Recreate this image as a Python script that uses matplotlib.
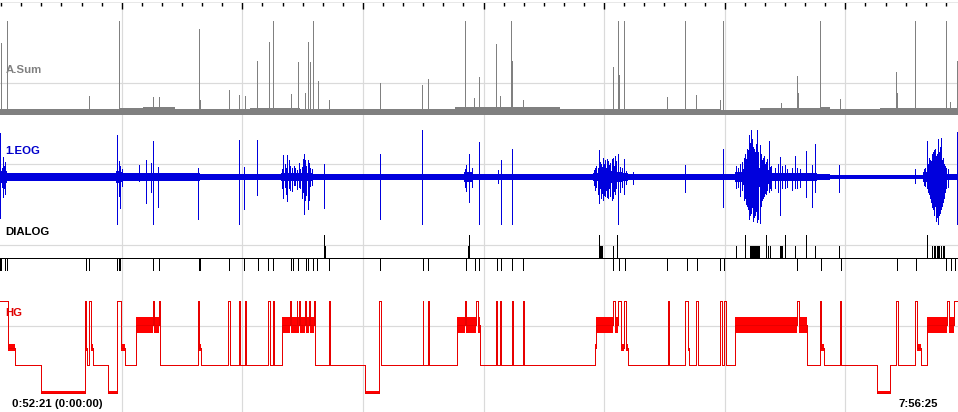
import numpy as np
import matplotlib
matplotlib.use("Agg")
import matplotlib.pyplot as plt

# ---------------- data (time in minutes from recording start) ----------------
START_CLOCK = "0:52:21"
START_ELAPSED = "0:00:00"
END_CLOCK = "7:56:25"
T_TOTAL = 424.07          # 0:52:21 -> 7:56:25
GRID_STEP = 53.39
GRID_OFFSET = 0.49

# A.Sum : background level segments and artefact spikes
asum_base_t = [0.0, 53.12, 63.30, 77.47, 110.67, 132.80, 159.36, 194.77, 201.41,
               230.18, 247.89, 283.30, 318.72, 336.42, 362.98, 367.41, 389.54]
asum_base_lvl = [6, 7, 8.5, 6.5, 7.5, 6.5, 6, 6.5, 8, 8.5, 6, 6.5, 5, 7, 8, 6.5, 7.5]
asum_spike_t = [0.44, 3.10, 39.40, 52.54, 52.81, 67.73, 70.38, 87.96, 88.53, 101.24,
                105.80, 108.45, 113.76, 118.94, 120.71, 120.98, 128.68, 132.05, 135.01, 136.47,
                137.22, 138.69, 140.63, 145.77, 168.34, 186.94, 189.59, 205.97, 209.95, 212.17,
                219.69, 221.46, 226.33, 226.64, 231.64, 271.48, 273.70, 274.14, 276.35, 295.39,
                303.36, 308.23, 318.85, 320.18, 345.85, 352.93, 353.15, 363.12, 371.97, 396.76,
                397.07, 405.17, 418.89, 420.66, 423.76]
asum_spike_h = [72, 94, 19, 55, 94, 18, 18, 86, 15, 25,
                20, 19, 54, 73, 94, 27, 21, 53, 22, 73,
                53, 94, 34, 15, 32, 30, 36, 94, 17, 38,
                71, 19, 94, 54, 15, 48, 94, 40, 94, 18,
                94, 20, 15, 94, 12, 39, 22, 94, 16, 43,
                22, 94, 94, 13, 54]

# 1.EOG (uV): background envelope segments and individual deflections
eog_band_t = [0.0, 3.1, 51.5, 52.8, 54.5, 88.5, 124.5, 130.0, 134.0, 138.5,
              163.7, 205.5, 209.5, 262.5, 264.5, 272.0, 275.5, 278.0, 325.5, 329.0,
              331.0, 337.5, 341.8, 361.5, 367.5, 408.5, 410.5, 413.0, 417.5, 419.0]
eog_band_amp = [30, 20, 30, 25, 20, 18, 22, 20, 22, 17,
                14, 24, 17, 22, 32, 28, 20, 15, 28, 40,
                50, 35, 22, 16, 9, 28, 40, 45, 30, 14]
eog_t = [0.22, 0.89, 1.33, 1.77, 2.43, 51.93, 52.46, 53.12, 54.00, 61.66,
         64.63, 66.84, 67.86, 70.07, 87.51, 105.93, 108.01, 113.90, 125.41, 127.18,
         128.37, 130.58, 132.80, 134.57, 135.23, 136.21, 136.92, 138.11, 143.56, 168.21,
         186.94, 205.84, 206.28, 207.74, 208.94, 212.17, 220.58, 221.64, 226.51, 263.38,
         265.29, 266.04, 267.06, 267.81, 269.14, 270.78, 271.22, 272.24, 273.70, 276.35,
         280.20, 303.22, 320.04, 325.80, 327.56, 329.34, 330.67, 331.55, 332.00, 332.57,
         333.32, 334.21, 335.23, 336.29, 336.86, 337.75, 339.07, 340.27, 341.29, 343.06,
         344.39, 345.15, 346.16, 347.35, 348.37, 350.59, 352.05, 352.80, 354.13, 356.92,
         359.58, 360.91, 371.26, 404.90, 409.02, 410.48, 411.67, 412.56, 413.44, 414.33,
         415.22, 415.88, 416.68, 417.43, 418.31, 419.64, 423.76]
eog_hi = [230, 50, 105, 60, 80, 219, 85, 60, 40, 65,
          91, 75, 192, 53, 47, 197, 53, 193, 118, 114,
          60, 50, 40, 123, 90, 88, 75, 40, 70, 123,
          245, 40, 65, 123, 50, 183, 35, 92, 145, 50,
          140, 70, 100, 90, 85, 97, 100, 110, 123, 97,
          25, 61, 149, 60, 70, 100, 150, 219, 180, 245,
          160, 130, 245, 170, 120, 100, 80, 192, 60, 50,
          70, 105, 60, 65, 40, 45, 110, 50, 40, 135,
          65, 175, 65, 40, 40, 187, 90, 120, 140, 110,
          198, 130, 205, 100, 60, 40, 236]
eog_lo = [-217, -50, -105, -60, -90, -250, -100, -165, -45, -20,
          -139, -79, -250, -158, -219, -250, -171, -96, -110, -128,
          -70, -40, -60, -197, -120, -166, -120, -40, -163, -223,
          -250, -50, -75, -134, -55, -250, -30, -250, -250, -70,
          -139, -110, -120, -100, -110, -123, -110, -90, -250, -92,
          -35, -79, -158, -60, -100, -120, -150, -220, -200, -190,
          -230, -200, -236, -241, -150, -110, -90, -80, -70, -60,
          -80, -200, -60, -60, -50, -70, -60, -60, -50, -105,
          -158, -80, -79, -30, -40, -60, -110, -160, -200, -230,
          -250, -200, -170, -130, -80, -50, -250]
# additional deflections inside the eye-movement bursts
eog_b_t = [124.83, 126.16, 126.60, 127.93, 129.26, 130.14, 131.47, 132.36, 133.68, 134.13,
           135.45, 137.22,
           262.94, 263.83, 264.71, 265.60, 266.48, 267.37, 268.25, 268.69, 269.58, 270.02,
           271.79, 272.68, 274.45, 275.33, 277.10,
           326.68, 328.45, 329.78, 330.22, 331.11, 332.88, 333.77, 334.65, 335.54, 336.42,
           337.31, 338.19, 338.63, 339.52, 340.85,
           409.46, 410.79, 411.23, 412.12, 413.00, 413.89, 414.77, 416.10, 416.98, 417.87,
           418.76]
eog_b_hi = [40, 70, 50, 90, 45, 60, 35, 75, 55, 95,
            60, 50,
            35, 60, 45, 80, 55, 70, 50, 95, 65, 75,
            60, 85, 55, 45, 30,
            45, 80, 120, 95, 140, 200, 150, 175, 130, 150,
            90, 110, 70, 95, 55,
            50, 70, 100, 85, 130, 150, 120, 160, 90, 70,
            45]
eog_b_lo = [-60, -50, -90, -60, -75, -40, -65, -55, -110, -80,
            -95, -45,
            -40, -55, -90, -60, -85, -95, -70, -105, -60, -100,
            -75, -60, -80, -50, -35,
            -55, -70, -110, -140, -170, -160, -210, -180, -220, -190,
            -120, -100, -85, -70, -60,
            -45, -80, -90, -130, -170, -150, -210, -190, -150, -110,
            -60]

# DIALOG events
dlg_down_t = [0.0, 0.44, 2.21, 3.23, 37.94, 39.53, 51.93, 52.46, 53.12, 67.86,
              70.52, 88.09, 88.75, 101.24, 108.01, 114.07, 118.77, 120.71, 128.68, 129.57,
              132.05, 135.32, 136.47, 138.69, 140.46, 145.77, 168.21, 187.11, 189.59, 206.28,
              210.26, 212.17, 219.87, 221.64, 226.51, 231.64, 271.48, 274.14, 276.66, 295.39,
              303.97, 308.40, 318.58, 320.49, 352.80, 363.29, 372.14, 397.07, 405.61, 418.89,
              420.84, 422.87]
dlg_tall_t = [143.56, 207.74, 265.29, 273.25, 329.92, 338.95, 347.35, 356.92, 410.48]
dlg_short_t = [143.86, 207.30, 265.60, 266.04, 266.48, 271.22, 325.66, 331.86, 332.44, 332.88,
               333.32, 333.77, 334.21, 334.65, 335.09, 335.54, 335.98, 339.96, 340.85, 345.15,
               345.50, 345.85, 346.29, 351.91, 360.91, 371.26, 412.70, 413.23, 413.89, 414.56,
               415.22, 415.88, 416.54, 417.21, 417.87]

# HG (hypnogram): stage changes
hg_t = [0.00, 3.67, 6.64, 18.02, 37.76, 38.07, 38.73, 39.40, 40.15, 41.03,
        47.94, 51.66, 53.69, 55.47, 60.34, 67.73, 68.17, 70.38, 70.83, 87.51,
        88.22, 88.97, 101.06, 101.68, 105.93, 106.24, 108.32, 108.76, 118.77, 119.52,
        120.71, 121.42, 124.83, 128.37, 128.81, 131.34, 131.60, 132.22, 132.67, 135.01,
        135.45, 136.65, 137.22, 138.86, 139.44, 145.50, 146.08, 161.57, 167.90, 168.79,
        187.11, 187.38, 189.59, 189.90, 202.43, 205.97, 206.42, 210.71, 211.59, 212.61,
        219.69, 220.14, 221.46, 221.91, 226.51, 227.22, 231.51, 232.09, 263.52, 263.96,
        271.35, 272.10, 273.56, 274.76, 276.22, 277.11, 277.86, 295.56, 296.01, 303.36,
        304.42, 304.86, 308.23, 308.85, 318.85, 319.47, 320.35, 321.24, 325.22, 352.93,
        353.55, 357.09, 362.98, 363.56, 364.62, 371.97, 372.41, 388.35, 393.83, 396.76,
        397.51, 405.17, 406.05, 407.56, 410.48, 419.33, 419.95, 422.30]
hg_s = ['W', 'N1', 'N2', 'N3', 'W', 'N1', 'N2', 'W', 'N1', 'N2',
        'N3', 'W', 'N1', 'N2', 'R', 'W', 'R', 'W', 'N2', 'W',
        'N1', 'N2', 'W', 'N2', 'W', 'N2', 'W', 'N2', 'W', 'N2',
        'W', 'N2', 'R', 'W', 'R', 'W', 'R', 'W', 'R', 'W',
        'R', 'W', 'R', 'W', 'N2', 'W', 'N2', 'N3', 'W', 'N2',
        'W', 'N2', 'W', 'N2', 'R', 'W', 'R', 'W', 'R', 'N2',
        'W', 'N2', 'W', 'N2', 'W', 'N2', 'W', 'N2', 'N1', 'R',
        'W', 'R', 'W', 'N1', 'W', 'N1', 'N2', 'W', 'N2', 'W',
        'N1', 'N2', 'W', 'N2', 'W', 'N2', 'W', 'N2', 'R', 'W',
        'R', 'N2', 'W', 'N1', 'N2', 'W', 'N2', 'N3', 'N2', 'W',
        'N2', 'W', 'N1', 'N2', 'R', 'W', 'R', 'W']

assert len(hg_t) == len(hg_s)
assert len(eog_t) == len(eog_hi) == len(eog_lo)
assert len(eog_b_t) == len(eog_b_hi) == len(eog_b_lo)
assert len(asum_spike_t) == len(asum_spike_h)

# ---------------- style ----------------
W_PX, H_PX, DPI = 958, 412, 100
PX = 72.0 / DPI
GRAY = '#808080'
BLUE = '#0000dd'
RED = '#ff0000'
RED_LINE = '#e80000'
GRID = '#dadada'
FONT = ['Liberation Sans', 'DejaVu Sans']

fig = plt.figure(figsize=(W_PX / DPI, H_PX / DPI), dpi=DPI)
fig.patch.set_facecolor('white')


def rect(top_px, bottom_px):
    return [0, 1 - bottom_px / H_PX, 1, (bottom_px - top_px) / H_PX]


# background: grid + time ticks
bg = fig.add_axes(rect(2, H_PX), zorder=0)
bg.set_xlim(0, T_TOTAL)
bg.set_ylim(0, 1)
bg.set_xticks(GRID_OFFSET + GRID_STEP * np.arange(1, 8))
bg.set_xticks(GRID_OFFSET + GRID_STEP / 6 * np.arange(0, 48), minor=True)
bg.xaxis.tick_top()
bg.tick_params(axis='x', which='major', direction='in', length=6.6 * PX, width=1.4 * PX,
               color='black', labeltop=False, labelbottom=False, top=True, bottom=False)
bg.tick_params(axis='x', which='minor', direction='in', length=4.2 * PX, width=1.4 * PX,
               color='black', top=True, bottom=False)
hgrid_px = [83, 164, 245, 326]
bg.set_yticks([1 - (p - 2) / (H_PX - 2) for p in hgrid_px])
bg.tick_params(axis='y', length=0, labelleft=False)
bg.grid(True, which='major', color=GRID, lw=1.2 * PX)
for s in bg.spines.values():
    s.set_visible(False)
bg.spines['top'].set_visible(True)
bg.spines['top'].set_color('#e8e8e8')
bg.spines['top'].set_linewidth(1 * PX)


def track(top_px, bottom_px, ylim):
    ax = fig.add_axes(rect(top_px, bottom_px), zorder=2)
    ax.set_xlim(0, T_TOTAL)
    ax.set_ylim(*ylim)
    ax.axis('off')
    return ax


# A.Sum
a1 = track(21, 115, (0, 94))
edges = np.append(asum_base_t, T_TOTAL)
lv = np.append(asum_base_lvl, asum_base_lvl[-1])
a1.fill_between(edges, 0, lv, step='post', color=GRAY, lw=0)
a1.vlines(asum_spike_t, 0, asum_spike_h, color=GRAY, lw=1.0 * PX, antialiased=False)

# 1.EOG
a2 = track(129.5, 224.5, (-250, 250))
edges = np.append(eog_band_t, T_TOTAL)
amp = np.append(eog_band_amp, eog_band_amp[-1])
a2.fill_between(edges, -amp, amp, step='post', color=BLUE, lw=0)
a2.axhline(0, color=BLUE, lw=1.5 * PX)
a2.vlines(eog_t, eog_lo, eog_hi, color=BLUE, lw=1.0 * PX, antialiased=False)
a2.vlines(eog_b_t, eog_b_lo, eog_b_hi, color=BLUE, lw=1.0 * PX, antialiased=False)

# DIALOG
UNIT = 11.9
a3 = track(230, 275, ((258.3 - 275) / UNIT, (258.3 - 230) / UNIT))
a3.axhline(0, color='black', lw=1.0 * PX, antialiased=False)
a3.vlines(dlg_down_t, -1, 0, color='black', lw=1.0 * PX, antialiased=False)
a3.vlines(dlg_tall_t, 0, 2, color='black', lw=1.0 * PX, antialiased=False)
a3.vlines(dlg_short_t, 0, 1, color='black', lw=1.0 * PX, antialiased=False)

# HG
a4 = track(296, 398, (102, 0))
STAGE_Y = {'W': 4.7, 'R': 29.0, 'N1': 51.5, 'N2': 69.3, 'N3': 96.5}
STAGE_HALF = {'R': 8.0, 'N1': 3.5, 'N3': 1.9}
ys = [STAGE_Y[s] for s in hg_s]
a4.step(np.append(hg_t, T_TOTAL), ys + [ys[-1]], where='post', color=RED_LINE,
        lw=1.0 * PX, antialiased=False)
ends = list(hg_t[1:]) + [T_TOTAL]
for t0, t1, s in zip(hg_t, ends, hg_s):
    if s in STAGE_HALF:
        y0 = STAGE_Y[s]
        h = STAGE_HALF[s]
        a4.fill_between([t0, t1], y0 - h, y0 + h, color=RED, lw=0)

# labels
def label(x_px, base_px, txt, color):
    fig.text(x_px / W_PX, 1 - base_px / H_PX, txt, ha='left', va='baseline',
             color=color, fontsize=8.2, fontweight='bold', family=FONT, zorder=5)

label(5.5, 73.3, 'A.Sum', GRAY)
label(5.5, 154.3, '1.EOG', '#0000cc')
label(5.5, 235.0, 'DIALOG', 'black')
label(5.5, 316.0, 'HG', '#e00000')
label(11.5, 406.7, f'{START_CLOCK} ({START_ELAPSED})', 'black')
label(898.5, 406.7, END_CLOCK, 'black')

fig.savefig('out.png', dpi=DPI, facecolor='white')
